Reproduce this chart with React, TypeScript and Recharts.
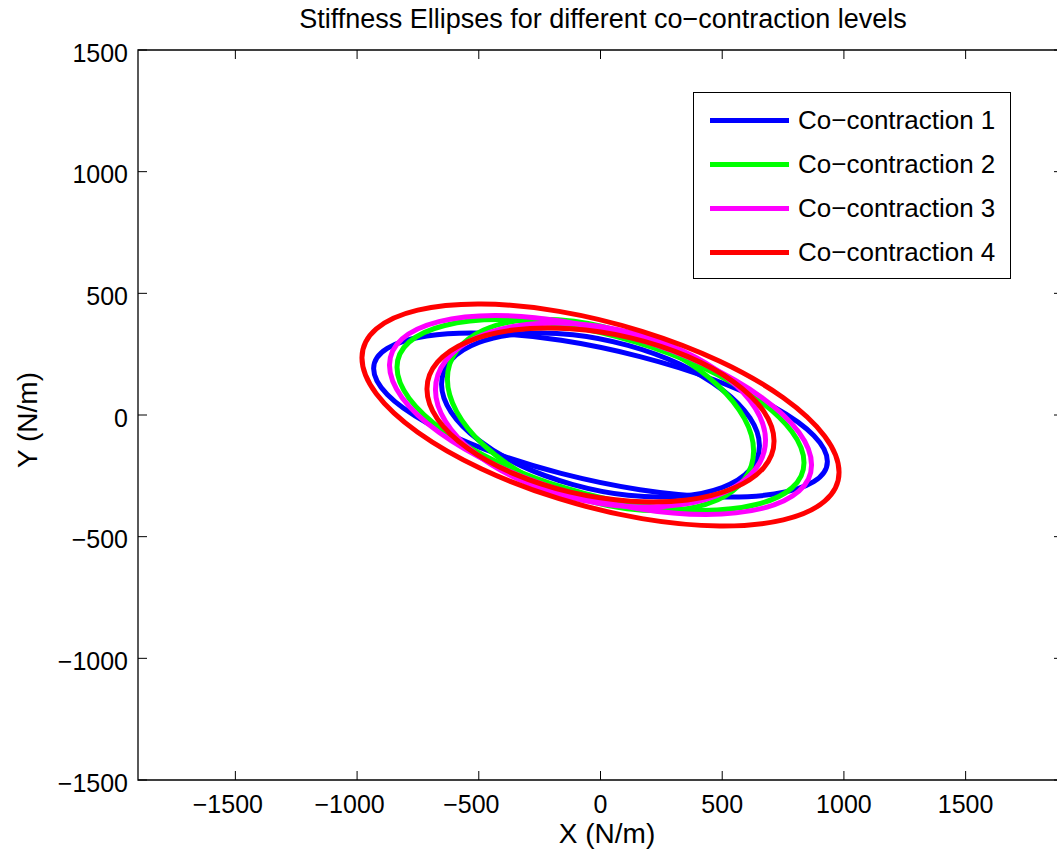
import React from 'react';
import { LineChart, Line, XAxis, YAxis, Legend, ReferenceArea } from 'recharts';

const FONT = '"Liberation Sans", Arial, Helvetica, sans-serif';

// ellipse outlines [x, y] in N/m (each level draws an outer and an inner loop)
const blueOuter = [
  [932, -191], [876, -84], [714, 32], [466, 145], [162, 240], [-162, 307], [-466, 336], [-714, 325], [-876, 274],
  [-932, 191], [-876, 84], [-714, -32], [-466, -145], [-162, -240], [162, -307], [466, -336], [714, -325], [876, -274],
];
const blueInner = [
  [653, -126], [614, -12], [500, 104], [327, 208], [113, 286], [-113, 330], [-327, 334], [-500, 298], [-614, 226],
  [-653, 126], [-614, 12], [-500, -104], [-327, -208], [-113, -286], [113, -330], [327, -334], [500, -298], [614, -226],
];
const greenOuter = [
  [836, -196], [786, -68], [640, 68], [418, 196], [145, 300], [-145, 368], [-418, 392], [-640, 368], [-786, 300],
  [-836, 196], [-786, 68], [-640, -68], [-418, -196], [-145, -300], [145, -368], [418, -392], [640, -368], [786, -300],
];
const greenInner = [
  [629, -148], [591, -14], [482, 122], [315, 243], [109, 334], [-109, 385], [-315, 390], [-482, 348], [-591, 264],
  [-629, 148], [-591, 14], [-482, -122], [-315, -243], [-109, -334], [109, -385], [315, -390], [482, -348], [591, -264],
];
const magentaOuter = [
  [867, -205], [815, -71], [664, 71], [434, 205], [151, 313], [-151, 384], [-434, 409], [-664, 384], [-815, 313],
  [-867, 205], [-815, 71], [-664, -71], [-434, -205], [-151, -313], [151, -384], [434, -409], [664, -384], [815, -313],
];
const magentaInner = [
  [678, -104], [637, 26], [519, 154], [339, 263], [118, 340], [-118, 376], [-339, 367], [-519, 313], [-637, 222],
  [-678, 104], [-637, -26], [-519, -154], [-339, -263], [-118, -340], [118, -376], [339, -367], [519, -313], [637, -222],
];
const redOuter = [
  [980, -235], [921, -87], [751, 71], [490, 221], [170, 344], [-170, 426], [-490, 456], [-751, 431], [-921, 354],
  [-980, 235], [-921, 87], [-751, -71], [-490, -221], [-170, -344], [170, -426], [490, -456], [751, -431], [921, -354],
];
const redInner = [
  [713, -107], [670, 16], [546, 137], [357, 241], [124, 317], [-124, 354], [-357, 349], [-546, 301], [-670, 217],
  [-713, 107], [-670, -16], [-546, -137], [-357, -241], [-124, -317], [124, -354], [357, -349], [546, -301], [670, -217],
];

const levelNames = ['Co−contraction 1', 'Co−contraction 2', 'Co−contraction 3', 'Co−contraction 4'];
const levelLoops = [
  [blueOuter, blueInner],
  [greenOuter, greenInner],
  [magentaOuter, magentaInner],
  [redOuter, redInner],
];
const COLORS = ['#0000ff', '#00ff00', '#ff00ff', '#ff0000'];

const xTicks = [-1500, -1000, -500, 0, 500, 1000, 1500];
const yTicks = [-1500, -1000, -500, 0, 500, 1000, 1500];

// plot box in px
const PLOT_TOP = 50;
const PLOT_BOTTOM = 780;
const PLOT_LEFT = 138;
const PLOT_RIGHT = 1063;
const TICK_LEN = 9;

const fmt = (v: number) => (v < 0 ? '\u2212' + Math.abs(v) : String(v));

// closed catmull-rom so the loops come out smooth
const closedCurve = (context: any) => {
  let pts: number[][] = [];
  return {
    areaStart() {},
    areaEnd() {},
    lineStart() {
      pts = [];
    },
    point(x: number, y: number) {
      pts.push([+x, +y]);
    },
    lineEnd() {
      const n = pts.length;
      if (n < 3) return;
      context.moveTo(pts[0][0], pts[0][1]);
      for (let i = 0; i < n; i++) {
        const p0 = pts[(i + n - 1) % n];
        const p1 = pts[i];
        const p2 = pts[(i + 1) % n];
        const p3 = pts[(i + 2) % n];
        context.bezierCurveTo(
          p1[0] + (p2[0] - p0[0]) / 6,
          p1[1] + (p2[1] - p0[1]) / 6,
          p2[0] - (p3[0] - p1[0]) / 6,
          p2[1] - (p3[1] - p1[1]) / 6,
          p2[0],
          p2[1]
        );
      }
      context.closePath();
    },
  };
};

const XTick = (props: any) => {
  const { x, payload } = props;
  const v = payload.value;
  return (
    <g>
      <line x1={x} y1={PLOT_BOTTOM} x2={x} y2={PLOT_BOTTOM - TICK_LEN} stroke="#000" />
      <line x1={x} y1={PLOT_TOP} x2={x} y2={PLOT_TOP + TICK_LEN} stroke="#000" />
      <text x={x + (v < 0 ? -7.5 : 0)} y={813} textAnchor="middle" fontFamily={FONT} fontSize={25} fill="#000">
        {fmt(v)}
      </text>
    </g>
  );
};

const YTick = (props: any) => {
  const { y, payload } = props;
  return (
    <g>
      <line x1={PLOT_LEFT} y1={y} x2={PLOT_LEFT + TICK_LEN} y2={y} stroke="#000" />
      <line x1={PLOT_RIGHT} y1={y} x2={PLOT_RIGHT - TICK_LEN} y2={y} stroke="#000" />
      <text x={128} y={y + 11.5} textAnchor="end" fontFamily={FONT} fontSize={25} fill="#000">
        {fmt(payload.value)}
      </text>
    </g>
  );
};

const renderLegend = () => (
  <div
    style={{
      boxSizing: 'border-box',
      width: 318,
      height: 187,
      border: '1px solid #000',
      background: '#fff',
      padding: '5px 0 0 16px',
      fontFamily: FONT,
      fontSize: 26,
      color: '#000',
    }}
  >
    {levelNames.map((name, i) => (
      <div key={name} style={{ display: 'flex', alignItems: 'center', height: 44 }}>
        <span style={{ display: 'block', width: 79, height: 5, background: COLORS[i], marginRight: 9 }} />
        <span style={{ whiteSpace: 'nowrap' }}>{name}</span>
      </div>
    ))}
  </div>
);

export default function App() {
  const series = levelLoops.flatMap((loops, i) =>
    loops.map((loop, j) => ({
      key: `${i}-${j}`,
      color: COLORS[i],
      points: loop.map(([x, y]) => ({ x, y })),
    }))
  );

  return (
    <div
      style={{
        position: 'fixed',
        left: 0,
        top: 0,
        width: 1057,
        height: 853,
        overflow: 'hidden',
        background: '#fff',
      }}
    >
      <LineChart width={1090} height={853} margin={{ top: PLOT_TOP, right: 1090 - PLOT_RIGHT, bottom: 0, left: 0 }}>
        <XAxis
          type="number"
          dataKey="x"
          domain={[-1900, 1900]}
          ticks={xTicks}
          interval={0}
          height={853 - PLOT_BOTTOM}
          tickSize={0}
          tickMargin={0}
          axisLine={false}
          tickLine={false}
          tick={(p: any) => <XTick {...p} />}
          allowDataOverflow
        />
        <YAxis
          type="number"
          domain={[-1500, 1500]}
          ticks={yTicks}
          interval={0}
          width={PLOT_LEFT}
          tickSize={0}
          tickMargin={0}
          axisLine={false}
          tickLine={false}
          tick={(p: any) => <YTick {...p} />}
          allowDataOverflow
        />
        <ReferenceArea
          x1={-1900}
          x2={1900}
          y1={-1500}
          y2={1500}
          fill="none"
          fillOpacity={0}
          stroke="#000"
          strokeWidth={1.3}
          ifOverflow="visible"
        />
        {series.map((s) => (
          <Line
            key={s.key}
            data={s.points}
            dataKey="y"
            type={closedCurve as any}
            stroke={s.color}
            strokeWidth={5}
            dot={false}
            activeDot={false}
            legendType="none"
            isAnimationActive={false}
          />
        ))}
        <Legend
          layout="vertical"
          align="center"
          verticalAlign="middle"
          wrapperStyle={{ left: 693, top: 92, width: 318, height: 187 }}
          content={renderLegend}
        />
      </LineChart>
      <svg
        width={1057}
        height={853}
        style={{ position: 'absolute', left: 0, top: 0, pointerEvents: 'none' }}
      >
        <text x={603} y={28} textAnchor="middle" fontFamily={FONT} fontSize={27} fill="#000">
          Stiffness Ellipses for different co−contraction levels
        </text>
        <text x={607} y={843} textAnchor="middle" fontFamily={FONT} fontSize={28} fill="#000">
          X (N/m)
        </text>
        <text
          x={37}
          y={420}
          textAnchor="middle"
          fontFamily={FONT}
          fontSize={28}
          fill="#000"
          transform="rotate(-90 37 420)"
        >
          Y (N/m)
        </text>
      </svg>
    </div>
  );
}
